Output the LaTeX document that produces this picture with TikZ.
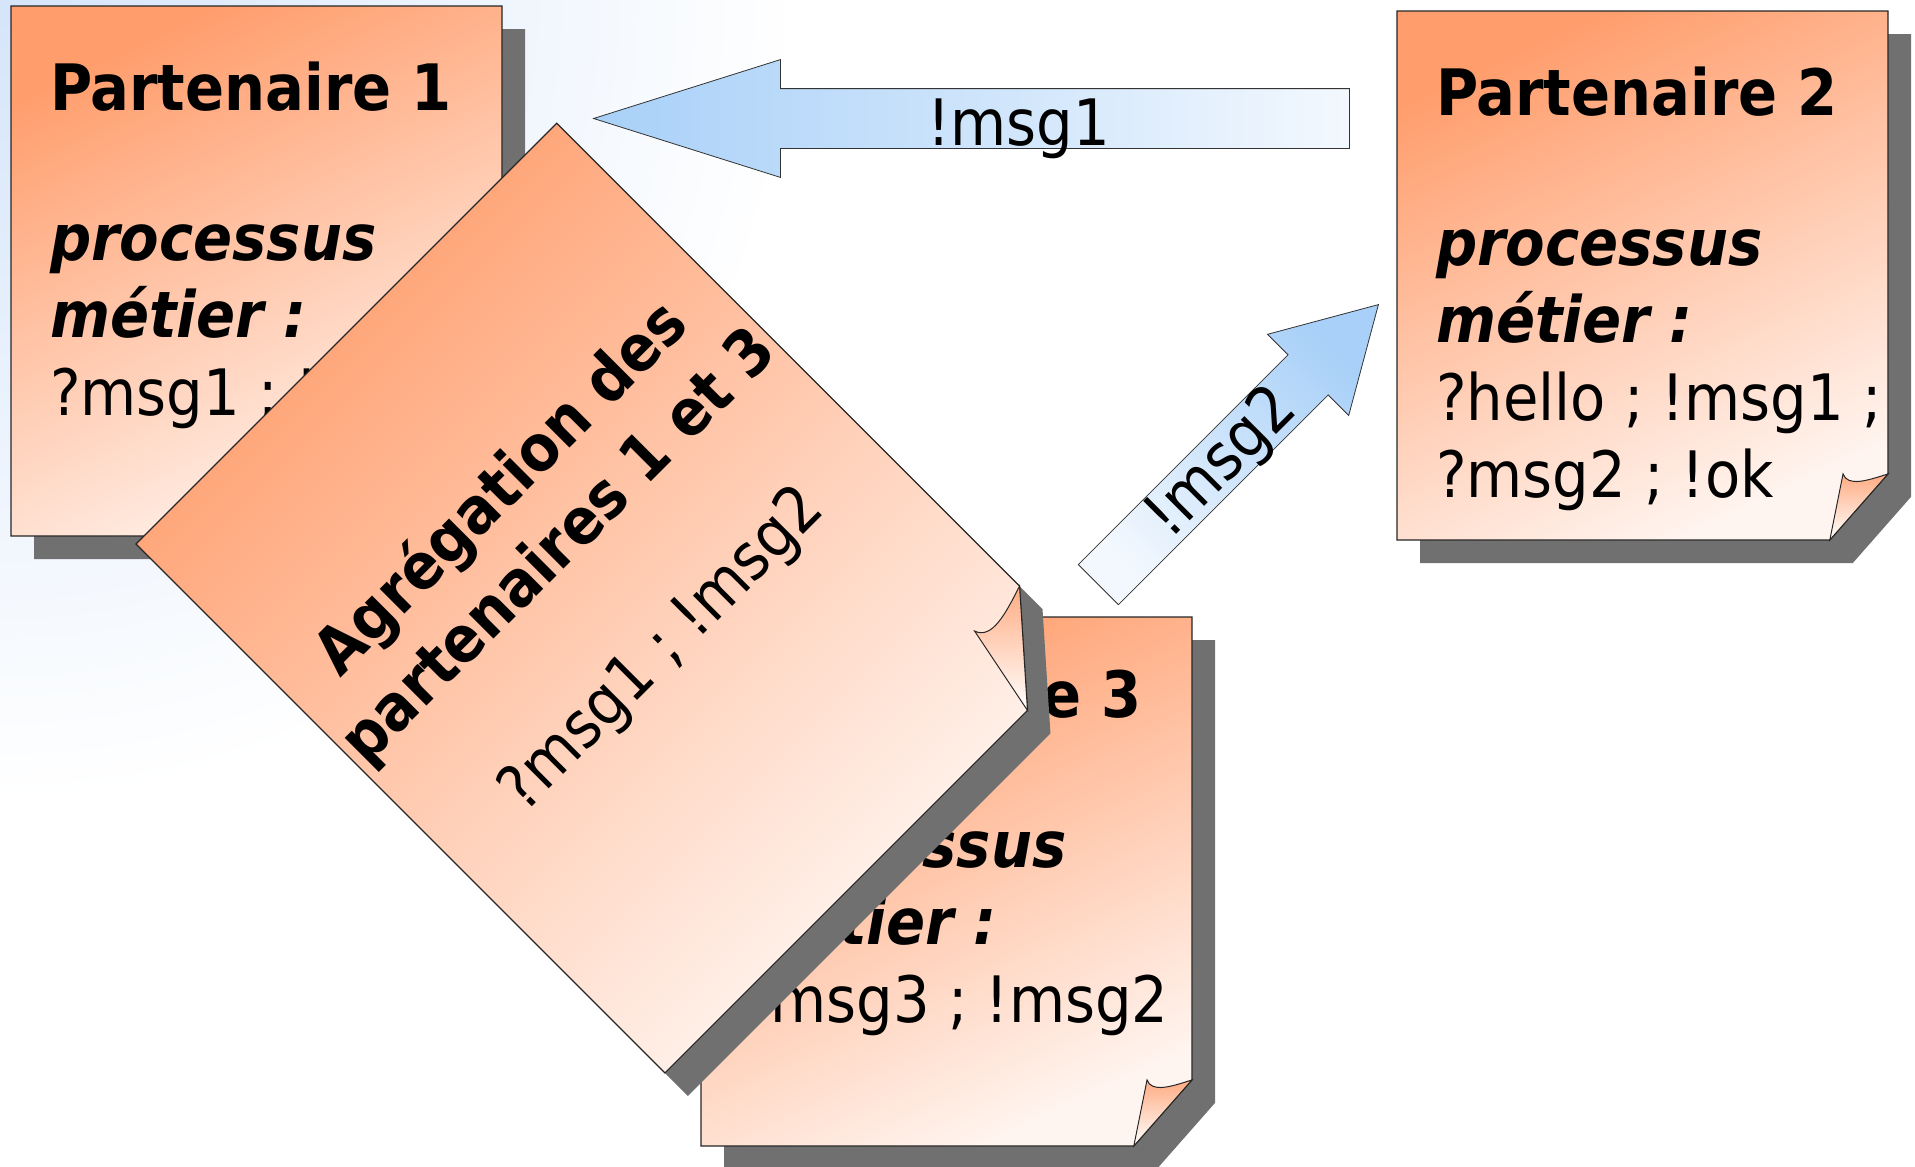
\documentclass[tikz,border=0pt]{standalone}
\usepackage{fontspec}
\setmainfont{DejaVu Sans Condensed}
\usetikzlibrary{shapes.arrows}

\definecolor{noteOrange}{HTML}{FF9D6C}
\definecolor{notePale}{HTML}{FFF5F0}
\definecolor{noteShadow}{HTML}{707070}
\definecolor{msgBlue}{HTML}{A8D0F8}
\definecolor{msgPale}{HTML}{F3F8FE}
\definecolor{bgBlue}{HTML}{D5E5FA}

% sticky note drawn from the current origin: width #1, height #2, shadow shift (#3,#4)
\newcommand{\stickynote}[4]{%
  \pgfmathsetmacro\cutA{0.125*#2}%
  \pgfmathsetmacro\cutB{0.11*#2}%
  \pgfmathsetmacro\cutT{0.085*#2}%
  \fill[noteShadow,shift={(#3,#4)}]
    (0,0) -- (#1,0) -- (#1,#2-\cutA) -- (#1-\cutB,#2) -- (0,#2) -- cycle;
  \draw[notebody]
    (0,0) -- (#1,0) -- (#1,#2-\cutA) -- (#1-\cutB,#2) -- (0,#2) -- cycle;
  \draw[noteflap]
    (#1,#2-\cutA) .. controls (#1-0.45*\cutT,#2-0.9*\cutA) and (#1-0.9*\cutT,#2-0.8*\cutA)
    .. (#1-\cutT,#2-\cutA) -- (#1-\cutB,#2) -- cycle;
}

\begin{document}
\begin{tikzpicture}[
  x=1pt, y=-1pt,
  notebody/.style={draw=black!85,line width=1.2pt,top color=noteOrange,
                   bottom color=notePale,shading angle=25},
  noteflap/.style={draw=black!85,line width=1pt,top color=noteOrange!85,bottom color=white},
  notetext/.style={anchor=north west,inner sep=0pt,align=left,
                   font=\fontsize{64}{77.5}\selectfont},
  msgarrow/.style={single arrow,draw=black!80,line width=0.8pt,inner sep=0pt,
                   single arrow head extend=29pt,font=\fontsize{64}{77}\selectfont}
]
  \useasboundingbox (0,0) rectangle (1915,1167);

  % ── background glow ────────────────────────────────────────────────────────
  \begin{scope}
    \clip (0,0) rectangle (1915,1167);
    \shade[inner color=bgBlue,outer color=white] (0,0) circle[radius=800];
  \end{scope}

  % ── partners 1 and 3 (under the aggregate) ────────────────────────────────
  \begin{scope}[shift={(11,6)}]
    \stickynote{491}{530}{23}{23}
    \node[notetext] (p1) at (39,56)
      {\textbf{Partenaire 1}\\[72pt]\textbf{\textit{processus}}\\
       \textbf{\textit{métier :}}\\?msg1 ; !msg3};
  \end{scope}

  \begin{scope}[shift={(701,617)}]
    \stickynote{491}{529}{23}{23}
    \node[notetext] (p3) at (39,52)
      {\textbf{Partenaire 3}\\[72pt]\textbf{\textit{processus}}\\
       \textbf{\textit{métier :}}\\?msg3 ; !msg2};
  \end{scope}

  % ── partner 2 ─────────────────────────────────────────────────────────────
  \begin{scope}[shift={(1397,11)}]
    \stickynote{491}{529}{23}{23}
    \node[notetext] (p2) at (39,56)
      {\textbf{Partenaire 2}\\[72pt]\textbf{\textit{processus}}\\
       \textbf{\textit{métier :}}\\?hello ; !msg1 ;\\?msg2 ; !ok};
  \end{scope}

  % ── messages ──────────────────────────────────────────────────────────────
  \node[msgarrow,shape border rotate=180,minimum height=756pt,
        single arrow tip angle=35,text height=56pt,text depth=3pt,
        left color=msgBlue,right color=msgPale] (msg1) at (1019,118.5) {!msg1};

  \node[msgarrow,rotate=45,minimum height=396pt,
        single arrow tip angle=60,text height=48pt,text depth=8pt,
        top color=msgBlue,bottom color=msgPale,shading angle=-45] (msg2) at (1221,462) {!msg2};

  % ── aggregate of partners 1 and 3 ─────────────────────────────────────────
  \begin{scope}[shift={(136,544)},rotate=45,transform shape,
                notebody/.append style={shading angle=45}]
    \stickynote{595}{748}{0}{32.5}
    \node[notetext,anchor=north,align=center,font=\fontsize{64}{81}\selectfont] (agg) at (297.5,188)
      {\textbf{Agrégation des}\\\textbf{partenaires 1 et 3}\\[64pt]?msg1 ; !msg2};
  \end{scope}
\end{tikzpicture}
\end{document}
